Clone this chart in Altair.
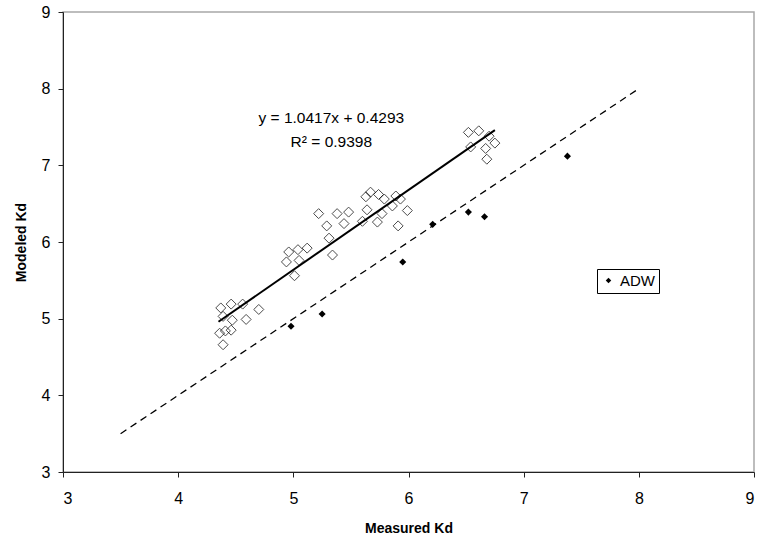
import altair as alt
import pandas as pd

# Open diamonds (unlabelled series)
open_x = [6.52, 6.61, 6.70, 6.75, 6.54, 6.67, 6.68,
          5.63, 5.67, 5.74, 5.79, 5.89, 5.93, 5.86, 5.77, 5.64, 5.60, 5.73, 5.99, 5.91,
          5.22, 5.38, 5.48, 5.44, 5.29, 5.31, 5.34,
          4.96, 5.04, 5.12, 4.94, 5.05, 5.01,
          4.37, 4.46, 4.56, 4.70, 4.39, 4.47, 4.59, 4.36, 4.41, 4.46, 4.39]
open_y = [7.43, 7.45, 7.38, 7.29, 7.24, 7.22, 7.08,
          6.59, 6.65, 6.62, 6.56, 6.60, 6.56, 6.47, 6.37, 6.42, 6.27, 6.26, 6.41, 6.21,
          6.37, 6.37, 6.39, 6.24, 6.21, 6.05, 5.83,
          5.87, 5.90, 5.92, 5.74, 5.76, 5.56,
          5.14, 5.19, 5.19, 5.12, 5.03, 4.98, 4.99, 4.81, 4.84, 4.85, 4.66]

# ADW series (filled diamonds)
adw_x = [4.98, 5.25, 5.95, 6.21, 6.52, 6.66, 7.38]
adw_y = [4.90, 5.06, 5.74, 6.23, 6.39, 6.33, 7.12]
adw_name = "ADW"

# Trend line (y = 1.0417x + 0.4293) end points as drawn
trend_x = [4.35, 6.75]
trend_y = [4.96, 7.46]

# 1:1 reference line
ref_x = [3.5, 8.0]
ref_y = [3.5, 8.0]

ticks = [3, 4, 5, 6, 7, 8, 9]
eq_text = "y = 1.0417x + 0.4293"
r2_text = "R² = 0.9398"

open_df = pd.DataFrame({"x": open_x, "y": open_y})
adw_df = pd.DataFrame({"x": adw_x, "y": adw_y, "series": [adw_name] * len(adw_x)})
trend_df = pd.DataFrame({"x": trend_x, "y": trend_y})
ref_df = pd.DataFrame({"x": ref_x, "y": ref_y})

FONT = "Liberation Sans"

xs = alt.Scale(domain=[3, 9], nice=False, zero=False)
ys = alt.Scale(domain=[3, 9], nice=False, zero=False)

x_axis = alt.Axis(values=ticks, format="d", title="Measured Kd", grid=False, labelFontSize=16,
                  titleFontSize=14, titleFontWeight="bold", labelPadding=13, titlePadding=15,
                  tickSize=5, domainColor="#222222", tickColor="#222222", labelColor="black",
                  titleColor="black", labelFont=FONT, titleFont=FONT)
y_axis = alt.Axis(values=ticks, format="d", title="Modeled Kd", grid=False, labelFontSize=16,
                  titleFontSize=14, titleFontWeight="bold", labelPadding=8, titlePadding=13,
                  tickSize=5, domainColor="#222222", tickColor="#222222", labelColor="black",
                  titleColor="black", labelFont=FONT, titleFont=FONT)

ref = alt.Chart(ref_df).mark_line(color="black", strokeWidth=1.3, strokeDash=[7, 5]).encode(
    x=alt.X("x:Q", scale=xs, axis=x_axis),
    y=alt.Y("y:Q", scale=ys, axis=y_axis),
)

trend = alt.Chart(trend_df).mark_line(color="black", strokeWidth=2).encode(
    x=alt.X("x:Q", scale=xs), y=alt.Y("y:Q", scale=ys)
)

opens = alt.Chart(open_df).mark_point(shape="diamond", filled=False, size=100,
                                      color="black", strokeWidth=1).encode(
    x=alt.X("x:Q", scale=xs), y=alt.Y("y:Q", scale=ys)
)

adw = alt.Chart(adw_df).mark_point(shape="diamond", filled=True, size=50, opacity=1).encode(
    x=alt.X("x:Q", scale=xs),
    y=alt.Y("y:Q", scale=ys),
    color=alt.Color("series:N", scale=alt.Scale(range=["black"]),
                    legend=alt.Legend(title=None, orient="none", legendX=534, legendY=257,
                                      symbolType="diamond", symbolSize=30,
                                      labelFontSize=15, labelFont=FONT, labelColor="black",
                                      strokeColor="black", fillColor="white", padding=4,
                                      labelOffset=4, symbolStrokeWidth=0)),
)

eq = alt.Chart(pd.DataFrame({"t": [eq_text]})).mark_text(
    fontSize=15.5, font=FONT, color="black", align="center", baseline="middle"
).encode(x=alt.datum(5.33), y=alt.datum(7.62), text="t:N")

r2 = alt.Chart(pd.DataFrame({"t": [r2_text]})).mark_text(
    fontSize=15.5, font=FONT, color="black", align="center", baseline="middle"
).encode(x=alt.datum(5.33), y=alt.datum(7.30), text="t:N")

chart = alt.layer(ref, trend, opens, adw, eq, r2).properties(
    width=691, height=460,
    autosize=alt.AutoSizeParams(type="none"),
    padding={"left": 63, "top": 12, "right": 3, "bottom": 68},
    background="white",
).configure_view(stroke="#a8a8a8", strokeWidth=1.5)

chart.save("out.html", embed_options={"renderer": "svg", "actions": False})
